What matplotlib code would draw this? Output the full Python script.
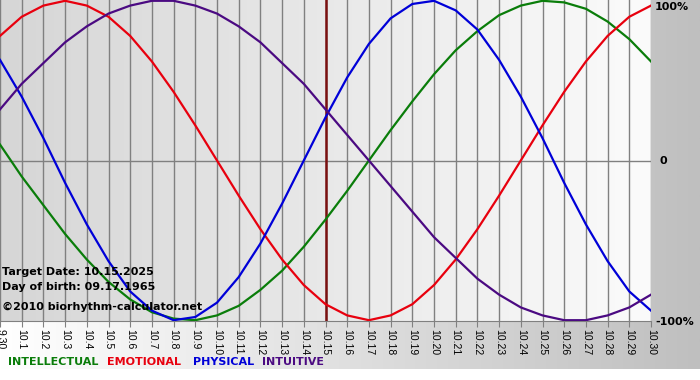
import matplotlib
matplotlib.use('Agg')
import matplotlib.pyplot as plt
import numpy as np

# one value per day, 9.30 .. 10.30
days = ['9.30'] + ['10.%d' % d for d in range(1, 31)]

physical = [0.63, 0.40, 0.14, -0.14, -0.40, -0.63, -0.82, -0.94, -1.00, -0.98,
            -0.89, -0.73, -0.52, -0.27, 0.00, 0.27, 0.52, 0.73, 0.89, 0.98,
            1.00, 0.94, 0.82, 0.63, 0.40, 0.14, -0.14, -0.40, -0.63, -0.82, -0.94]
emotional = [0.78, 0.90, 0.97, 1.00, 0.97, 0.90, 0.78, 0.62, 0.43, 0.22,
             0.00, -0.22, -0.43, -0.62, -0.78, -0.90, -0.97, -1.00, -0.97, -0.90,
             -0.78, -0.62, -0.43, -0.22, 0.00, 0.22, 0.43, 0.62, 0.78, 0.90, 0.97]
intellectual = [0.10, -0.10, -0.28, -0.46, -0.62, -0.76, -0.87, -0.95, -0.99, -1.00,
                -0.97, -0.91, -0.81, -0.69, -0.54, -0.37, -0.19, 0.00, 0.19, 0.37,
                0.54, 0.69, 0.81, 0.91, 0.97, 1.00, 0.99, 0.95, 0.87, 0.76, 0.62]
intuitive = [0.32, 0.48, 0.61, 0.74, 0.84, 0.92, 0.97, 1.00, 1.00, 0.97,
             0.92, 0.84, 0.74, 0.61, 0.48, 0.32, 0.16, 0.00, -0.16, -0.32,
             -0.48, -0.61, -0.74, -0.84, -0.92, -0.97, -1.00, -1.00, -0.97, -0.92, -0.84]

target_day = '10.15'
target_text = 'Target Date: 10.15.2025'
birth_text = 'Day of birth: 09.17.1965'
copy_text = '\u00a92010 biorhythm-calculator.net'

GREEN = '#0a7d0a'
RED = '#e8000e'
BLUE = '#0000d8'
PURPLE = '#4b0a82'

W, H = 700, 380
fig = plt.figure(figsize=(7, 3.8), dpi=100)

# page background: white -> gray from left to right
bg = fig.add_axes([0, 0, 1, 1], zorder=-10)
grad = np.linspace(0, 1, 256).reshape(1, -1)
bg.imshow(grad, cmap=matplotlib.colors.LinearSegmentedColormap.from_list('g', ['#ffffff', '#bfbfbf']),
          extent=[0, W, H - 369, H], aspect='auto')
bg.set_xlim(0, W)
bg.set_ylim(0, H)
bg.axis('off')

left, right, bottom = 0, 651, 321
ax = fig.add_axes([left / W, 1 - bottom / H, (right - left) / W, bottom / H])
x = np.arange(len(days))

ax.imshow(grad, cmap=matplotlib.colors.LinearSegmentedColormap.from_list('p', ['#d6d6d6', '#fbfbfb']),
          extent=[0, len(days) - 1, -1.005, 1.005], aspect='auto', zorder=0)

for xi in x:
    ax.axvline(xi, color='#808080', lw=1.0, zorder=1)
ax.axhline(0, color='#808080', lw=1.0, zorder=1)
ax.axvline(days.index(target_day), color='#7a1010', lw=1.8, zorder=2)

ax.plot(x, intellectual, color=GREEN, lw=1.6, zorder=3)
ax.plot(x, emotional, color=RED, lw=1.6, zorder=3)
ax.plot(x, physical, color=BLUE, lw=1.6, zorder=3)
ax.plot(x, intuitive, color=PURPLE, lw=1.6, zorder=3)

ax.set_xlim(0, len(days) - 1)
ax.set_ylim(-1.005, 1.005)
ax.set_xticks(x)
ax.set_xticklabels(days, rotation=-90, fontsize=7.5, family='Liberation Sans')
ax.tick_params(axis='x', length=4, color='#808080', pad=2)
ax.set_yticks([])
for s in ['top', 'left', 'right']:
    ax.spines[s].set_visible(False)
ax.spines['bottom'].set_color('#808080')

# right side labels
for label, yy, xx in [('100%', 7, 655), ('0', 161, 659), ('-100%', 322, 655)]:
    fig.text(xx / W, 1 - yy / H, label, fontsize=8, fontweight='bold', va='center', family='DejaVu Sans')

# info text
fig.text(2 / W, 1 - 272 / H, target_text, fontsize=8, fontweight='bold', va='center')
fig.text(2 / W, 1 - 287 / H, birth_text, fontsize=8, fontweight='bold', va='center')
fig.text(2 / W, 1 - 307 / H, copy_text, fontsize=8, fontweight='bold', va='center')

# legend
for label, xx, c in [('INTELLECTUAL', 8, GREEN), ('EMOTIONAL', 107, RED),
                     ('PHYSICAL', 193, BLUE), ('INTUITIVE', 262, PURPLE)]:
    fig.text(xx / W, 1 - 362 / H, label, fontsize=8, fontweight='bold', color=c, va='center')

fig.savefig('out.png', dpi=100)
